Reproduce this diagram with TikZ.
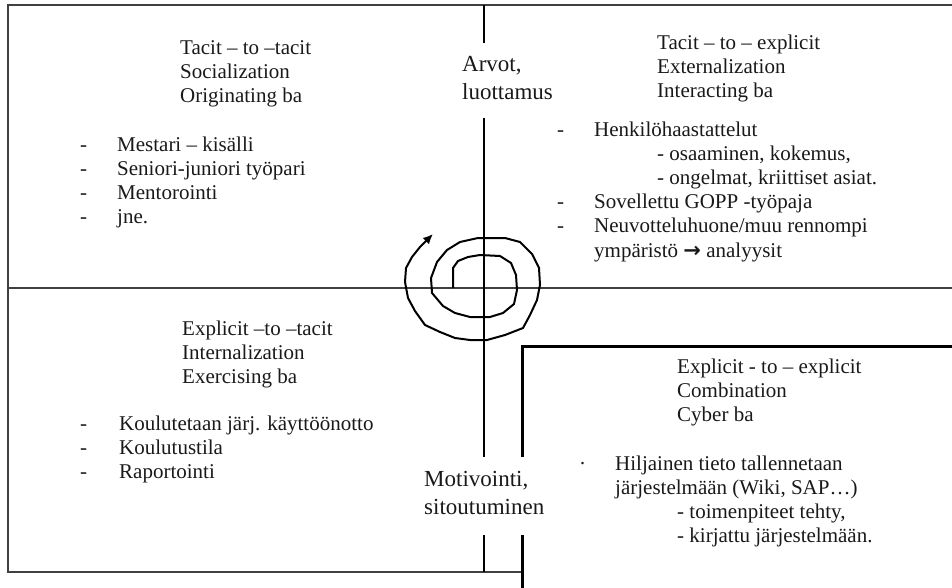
\documentclass[tikz,border=0pt]{standalone}
\usepackage{fontspec}
\setmainfont{Liberation Serif}
\newfontfamily\symfont{DejaVu Sans}
\usetikzlibrary{arrows.meta}
\tikzset{
  frameline/.style={line width=2pt, draw=black!75},
  axisline/.style={line width=1.8pt, draw=black},
  heavyline/.style={line width=3pt, draw=black},
  spiralline/.style={line width=2pt, line join=round, -{Latex[length=10pt,width=9pt]}},
  txt/.style={anchor=base west, inner sep=0pt, text=black!90, font=\fontsize{21}{24}\selectfont},
  bigtxt/.style={anchor=base west, inner sep=0pt, text=black!90, font=\fontsize{23}{28}\selectfont},
}
\begin{document}
\begin{tikzpicture}[x=1pt,y=-1pt]
\useasboundingbox (0,0) rectangle (952,588);
% frame coordinates
\coordinate (tl) at (8,5);
\coordinate (tr) at (952,5);
\coordinate (bl) at (8,572);
\coordinate (ml) at (8,288);
\coordinate (mr) at (952,288);
\coordinate (vA) at (484,5);
\coordinate (vB) at (484,43);
\coordinate (vC) at (484,118);
\coordinate (vD) at (484,457);
\coordinate (vE) at (484,535);
\coordinate (vF) at (484,572);
\coordinate (bx) at (522,572);
\coordinate (kA) at (522,346);
\coordinate (kB) at (522,457);
\coordinate (kC) at (522,535);
\coordinate (kD) at (522,588);
\coordinate (kR) at (952,346);
% outer frame
\draw[frameline] (tr) -- (tl) -- (bl) -- (bx);
\draw[frameline] (ml) -- (mr);
% central axis
\draw[axisline] (vA) -- (vB);
\draw[axisline] (vC) -- (vD);
\draw[axisline] (vE) -- (vF);
% combination box
\draw[heavyline] (kR) -- (kA) -- (kB);
\draw[heavyline] (kC) -- (kD);
% spiral
\draw[spiralline] (453,288) -- (453,268) -- (458,261) -- (468,257) -- (480,255) -- (500,256) -- (511,263) -- (516,275) -- (517,290) -- (514,304) -- (503,313) -- (490,317) -- (470,317) -- (455,313) -- (443,306) -- (432,293) -- (431,278) -- (437,262) -- (447,250) -- (460,242) -- (478,238) -- (505,238) -- (520,242) -- (532,254) -- (539,268) -- (540,285) -- (537,300) -- (530,315) -- (523,328) -- (505,335) -- (487,340) -- (470,340) -- (455,338) -- (440,332) -- (425,325) -- (415,311) -- (408,298) -- (405,282) -- (406,268) -- (412,257) -- (420,247) -- (433,234);
% center labels
\node[bigtxt] (arvot) at (462,72) {\begin{tabular}[t]{@{}l@{}}Arvot,\\luottamus\end{tabular}};
\node[bigtxt] (motiv) at (424,486) {\begin{tabular}[t]{@{}l@{}}Motivointi,\\sitoutuminen\end{tabular}};
% top-left
\node[txt] (soc) at (180,55) {\begin{tabular}[t]{@{}l@{}}Tacit – to –tacit\\Socialization\\Originating ba\end{tabular}};
\node[txt] (socl) at (80,152) {\begin{tabular}[t]{@{}p{37pt}@{}l@{}}-&Mestari – kisälli\\-&Seniori-juniori työpari\\-&Mentorointi\\-&jne.\end{tabular}};
% top-right
\node[txt] (ext) at (657,50) {\begin{tabular}[t]{@{}l@{}}Tacit – to – explicit\\Externalization\\Interacting ba\end{tabular}};
\node[txt] (extl) at (557,137) {\begin{tabular}[t]{@{}p{37pt}@{}l@{}}-&Henkilöhaastattelut\\&\hspace{63pt}- osaaminen, kokemus,\\&\hspace{63pt}- ongelmat, kriittiset asiat.\\-&Sovellettu GOPP -työpaja\\-&Neuvotteluhuone/muu rennompi\\&ympäristö {\symfont\bfseries →} analyysit\end{tabular}};
% bottom-left
\node[txt] (int) at (182,335) {\begin{tabular}[t]{@{}l@{}}Explicit –to –tacit\\Internalization\\Exercising ba\end{tabular}};
\node[txt] (intl) at (80,430) {\begin{tabular}[t]{@{}p{39pt}@{}l@{}}-&Koulutetaan järj. käyttöönotto\\-&Koulutustila\\-&Raportointi\end{tabular}};
% bottom-right
\node[txt] (comb) at (677,373) {\begin{tabular}[t]{@{}l@{}}Explicit - to – explicit\\Combination\\Cyber ba\end{tabular}};
\node[txt] (combl) at (579,470) {\begin{tabular}[t]{@{}p{36pt}@{}l@{}}·&Hiljainen tieto tallennetaan\\&järjestelmään (Wiki, SAP…)\\&\hspace{62pt}- toimenpiteet tehty,\\&\hspace{62pt}- kirjattu järjestelmään.\end{tabular}};
\end{tikzpicture}
\end{document}
